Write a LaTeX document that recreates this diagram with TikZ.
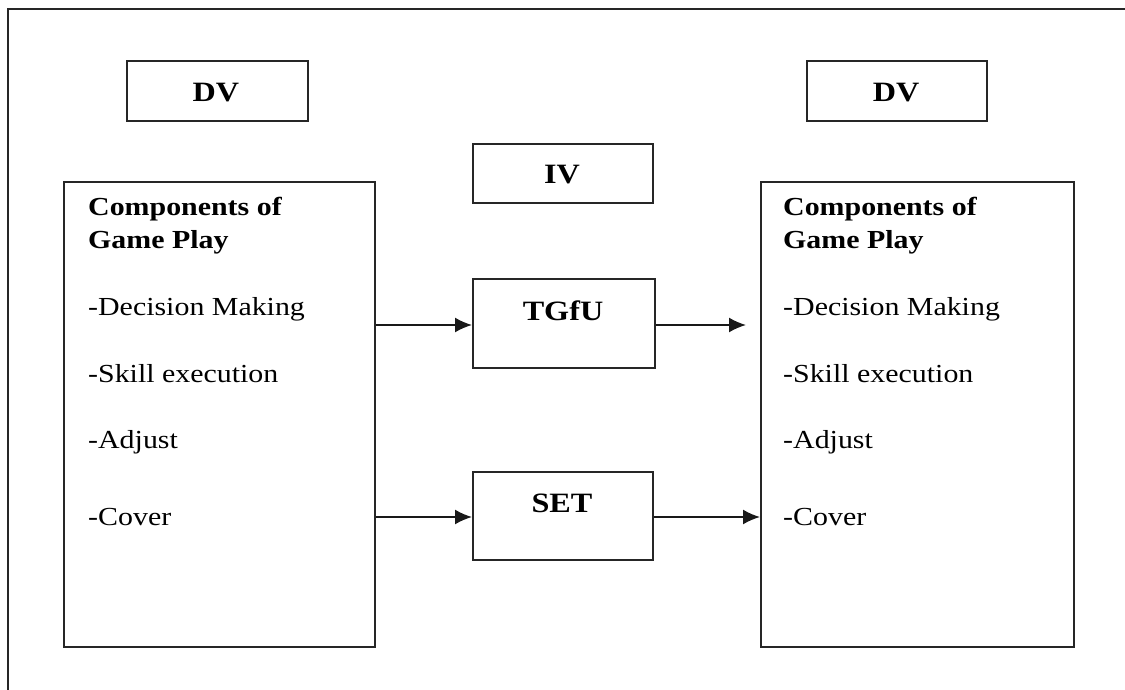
\documentclass[tikz,border=0pt]{standalone}
\usepackage{fontspec}
\setmainfont{Liberation Serif}[FakeStretch=1.15]
\usetikzlibrary{arrows.meta}
\tikzset{
  box/.style={draw=black!85, line width=2.4pt, inner sep=0pt, anchor=north west},
  lbl/.style={inner sep=0pt, anchor=base, font=\bfseries\fontsize{28}{32}\selectfont},
  itm/.style={inner sep=0pt, anchor=base west, font=\fontsize{26}{30}\selectfont},
  hd/.style={inner sep=0pt, anchor=base west, font=\bfseries\fontsize{26}{30}\selectfont},
  arr/.style={draw=black!90, line width=1.8pt, -{Latex[length=17pt,width=15pt]}}
}
\begin{document}
\begin{tikzpicture}[x=1pt,y=-1pt]
\useasboundingbox (0,0) rectangle (1125,690);
% outer frame (left and top edges only visible)
\draw[draw=black!85, line width=2.4pt] (8,690) -- (8,9) -- (1125,9);
% top DV boxes
\node[box, minimum width=181pt, minimum height=60pt] (dvl) at (126,60) {};
\node[lbl] (dvlt) at (216,102) {DV};
\node[box, minimum width=180pt, minimum height=60pt] (dvr) at (806,60) {};
\node[lbl] (dvrt) at (896,102) {DV};
% IV
\node[box, minimum width=180pt, minimum height=59pt] (iv) at (472,143) {};
\node[lbl] (ivt) at (562,183) {IV};
% big boxes
\node[box, minimum width=311pt, minimum height=465pt] (L) at (63,181) {};
\node[box, minimum width=313pt, minimum height=465pt] (R) at (760,181) {};
% middle boxes
\node[box, minimum width=182pt, minimum height=89pt] (tg) at (472,278) {};
\node[lbl] (tgt) at (563,320) {TGfU};
\node[box, minimum width=180pt, minimum height=88pt] (st) at (472,471) {};
\node[lbl] (stt) at (562,512) {SET};
% left texts
\node[hd] (l1) at (88,215) {Components of};
\node[hd] (l2) at (88,248) {Game Play};
\node[itm] (l3) at (88,315) {-Decision Making};
\node[itm] (l4) at (88,382) {-Skill execution};
\node[itm] (l5) at (88,448) {-Adjust};
\node[itm] (l6) at (88,525) {-Cover};
% right texts
\node[hd] (r1) at (783,215) {Components of};
\node[hd] (r2) at (783,248) {Game Play};
\node[itm] (r3) at (783,315) {-Decision Making};
\node[itm] (r4) at (783,382) {-Skill execution};
\node[itm] (r5) at (783,448) {-Adjust};
\node[itm] (r6) at (783,525) {-Cover};
% connectors
\coordinate (ya) at (0,325);
\coordinate (yb) at (0,517);
\coordinate (e1) at (746,325);
\draw[arr] (L.east |- ya) -- (tg.west |- ya);
\draw[arr] (tg.east |- ya) -- (e1);
\draw[arr] (L.east |- yb) -- (st.west |- yb);
\draw[arr] (st.east |- yb) -- (R.west |- yb);
\end{tikzpicture}
\end{document}
